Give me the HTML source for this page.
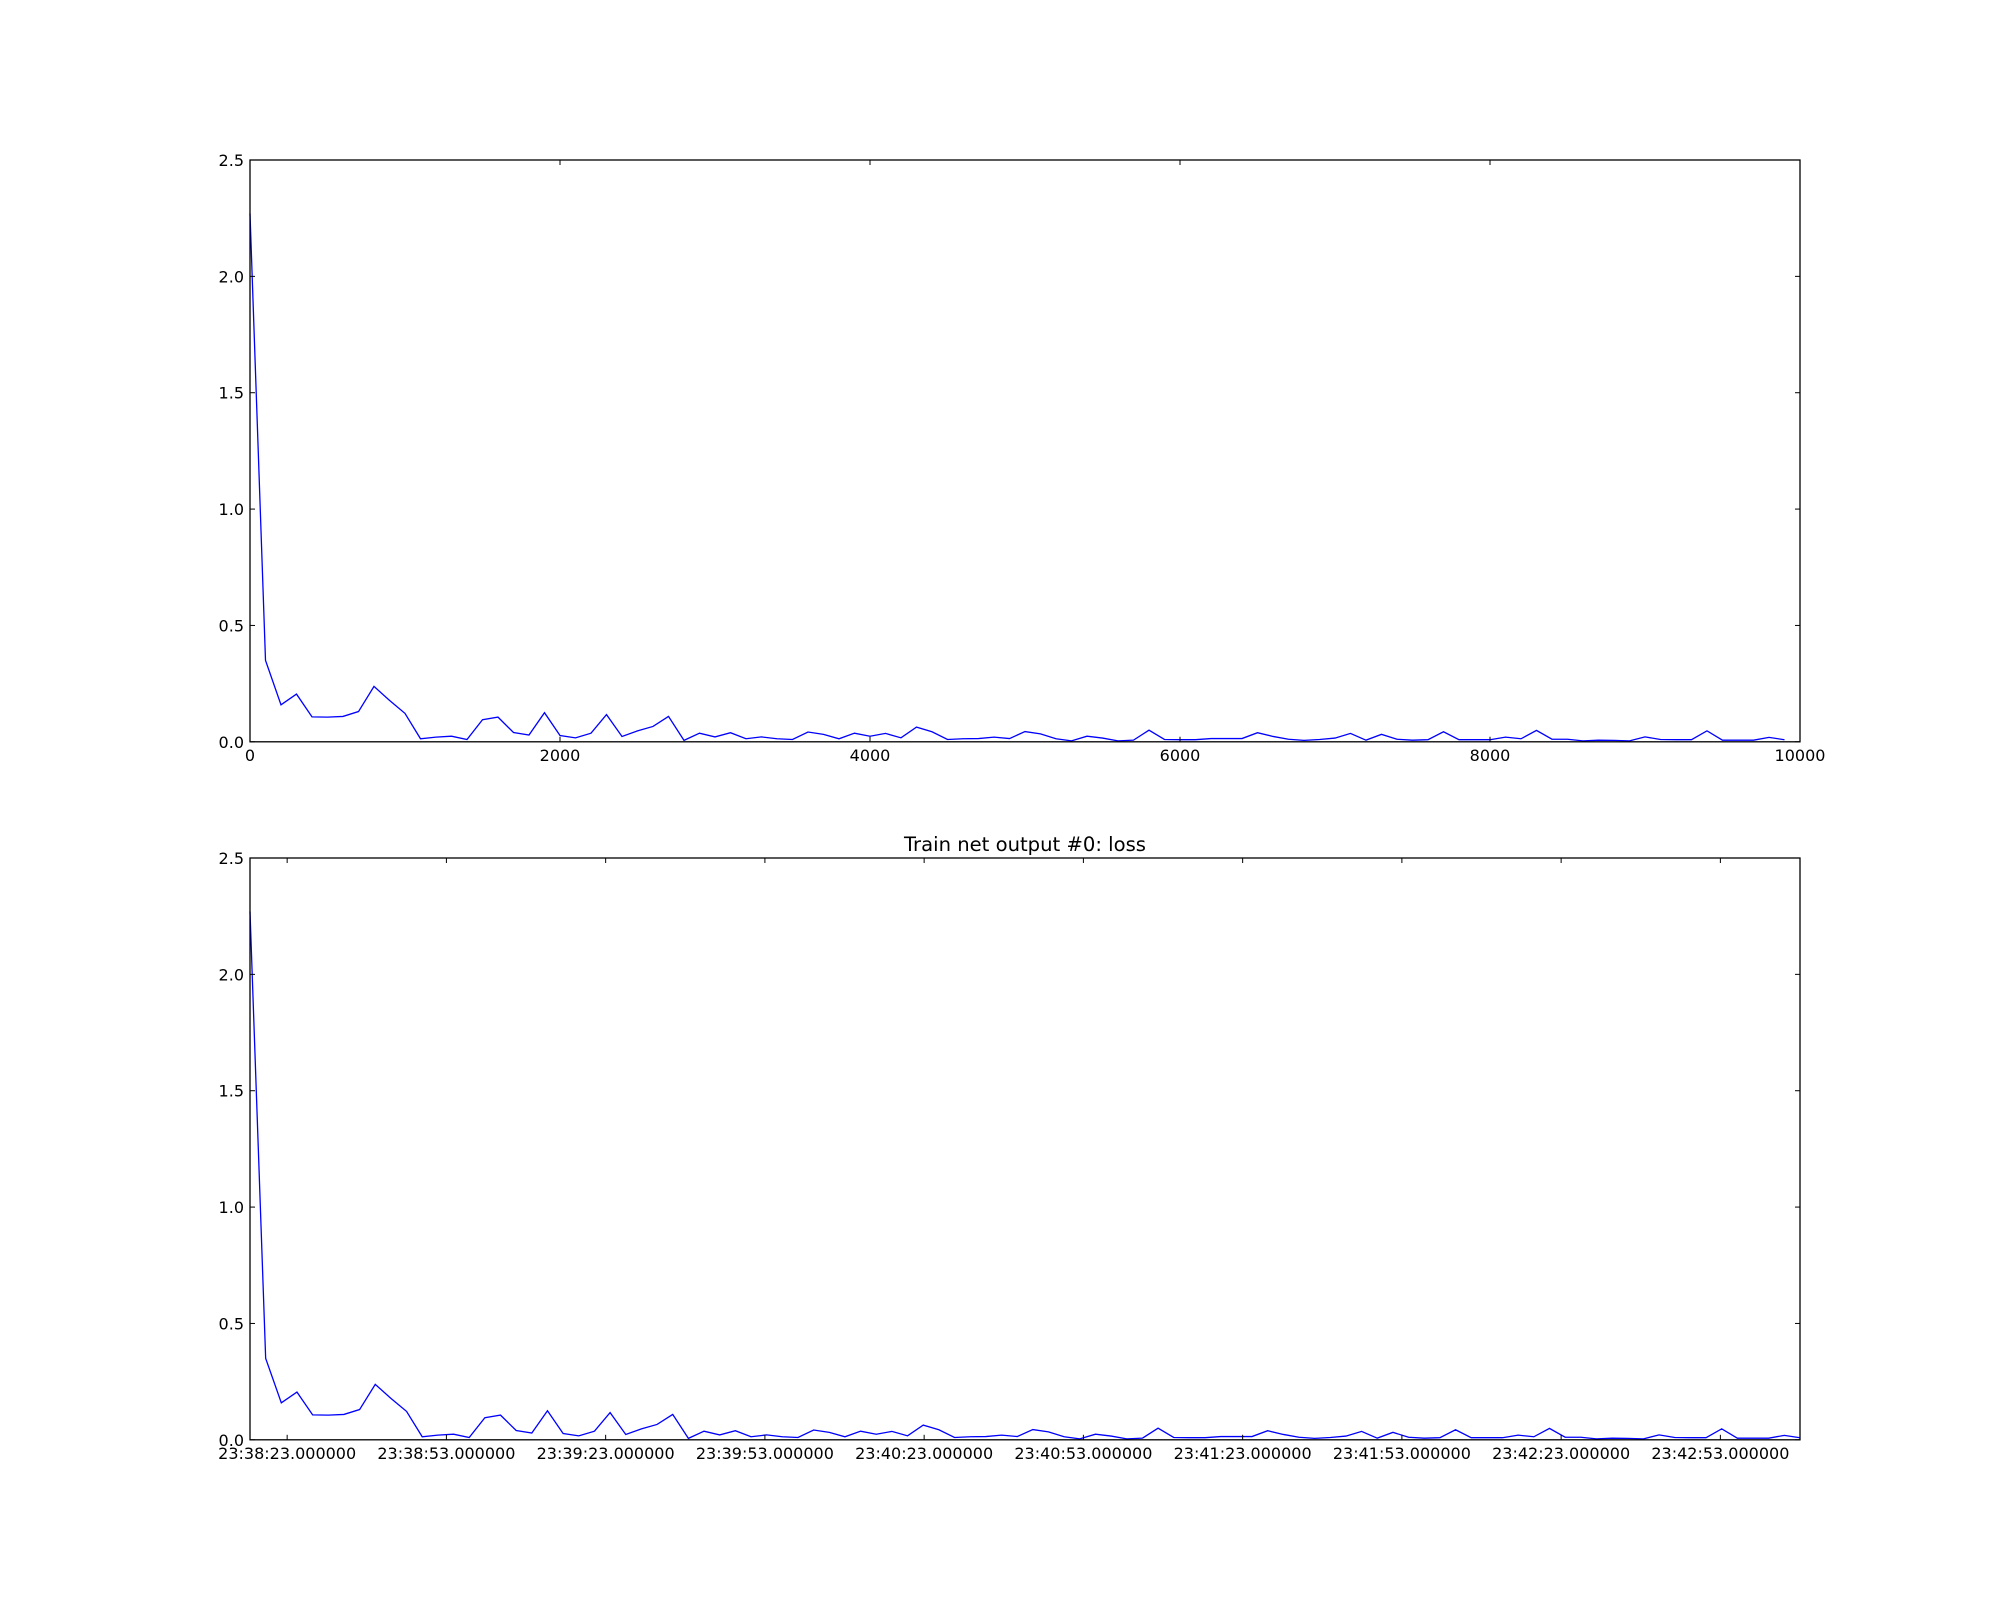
<!DOCTYPE html>
<html><head><meta charset="utf-8"><style>
html,body{margin:0;padding:0;background:#fff;}
svg{display:block;}
text{font-family:"DejaVu Sans","Liberation Sans",sans-serif;font-size:16px;fill:#000;}
</style></head><body>
<svg id="fig" width="2000" height="1600" viewBox="0 0 2000 1600" xmlns="http://www.w3.org/2000/svg">
<rect width="2000" height="1600" fill="#fff"/>
<g id="top"></g>
<g id="bot"></g>
</svg>
<script>
const loss = [2.27,0.35,0.159,0.205,0.107,0.106,0.109,0.13,0.238,0.178,
0.122,0.013,0.02,0.024,0.01,0.095,0.106,0.04,0.029,0.125,
0.027,0.017,0.037,0.117,0.023,0.047,0.066,0.109,0.006,0.037,
0.021,0.039,0.013,0.021,0.013,0.01,0.042,0.032,0.013,0.037,
0.024,0.036,0.017,0.063,0.043,0.01,0.013,0.014,0.02,0.014,
0.044,0.034,0.013,0.004,0.024,0.016,0.004,0.007,0.05,0.01,
0.009,0.009,0.014,0.014,0.014,0.039,0.023,0.011,0.006,0.01,
0.016,0.036,0.007,0.032,0.011,0.007,0.009,0.043,0.009,0.009,
0.009,0.02,0.013,0.049,0.011,0.011,0.004,0.007,0.006,0.004,
0.021,0.01,0.009,0.009,0.047,0.007,0.007,0.007,0.019,0.009];
const iterStep = 100;
const yTicks = [0.0,0.5,1.0,1.5,2.0,2.5];
const yTickLabels = ["0.0","0.5","1.0","1.5","2.0","2.5"];
const xTicksTop = [0,2000,4000,6000,8000,10000];
const xTickLabelsTop = ["0","2000","4000","6000","8000","10000"];
const timeStartSec = 23*3600+38*60+16.0;
const timeEndSec = 23*3600+43*60+8.0;
const timeTickSec = [0,30,60,90,120,150,180,210,240,270].map(d=>23*3600+38*60+23+d);
const timeTickLabels = ["23:38:23.000000","23:38:53.000000","23:39:23.000000","23:39:53.000000","23:40:23.000000","23:40:53.000000","23:41:23.000000","23:41:53.000000","23:42:23.000000","23:42:53.000000"];

const NS="http://www.w3.org/2000/svg";
function mk(tag,attrs,parent){const e=document.createElementNS(NS,tag);for(const k in attrs)e.setAttribute(k,attrs[k]);parent.appendChild(e);return e;}
const L=250,R=1800,H=581.8;
function drawAxes(g,top,xs,xTickVals,xTickLbls,isTime){
  const bottom=top+H;
  const ys=v=>bottom-v/2.5*H;
  const pts=loss.map((v,i)=>xs(i).toFixed(2)+","+ys(v).toFixed(2)).join(" ");
  const pl=mk("polyline",{points:pts,fill:"none",stroke:"#0000ff","stroke-width":"1.3","stroke-linejoin":"miter"},g);
  
  
  const fr=mk("rect",{x:L,y:top,width:R-L,height:H,fill:"none",stroke:"#000","stroke-width":"1.3"},g);
  
  
  yTicks.forEach((v,i)=>{
    const y=ys(v);
    mk("line",{x1:L,y1:y,x2:L+5,y2:y,stroke:"#000","stroke-width":"1"},g);
    mk("line",{x1:R,y1:y,x2:R-5,y2:y,stroke:"#000","stroke-width":"1"},g);
    const t=mk("text",{x:L-6,y:y+6,"text-anchor":"end"},g);
    t.textContent=yTickLabels[i];
    
    
  });
  xTickVals.forEach((v,i)=>{
    const x=isTime?xt(v):xi(v);
    mk("line",{x1:x,y1:bottom,x2:x,y2:bottom-5,stroke:"#000","stroke-width":"1"},g);
    mk("line",{x1:x,y1:top,x2:x,y2:top+5,stroke:"#000","stroke-width":"1"},g);
    const t=mk("text",{x:x,y:bottom+19,"text-anchor":"middle"},g);
    t.textContent=xTickLbls[i];
    
    
  });
}
const xi=it=>L+(it/10000)*(R-L);
const xt=s=>L+(s-timeStartSec)/(timeEndSec-timeStartSec)*(R-L);
const secPerIter=(timeEndSec-timeStartSec)/((loss.length-1)*iterStep);
drawAxes(document.getElementById("top"),160,i=>xi(i*iterStep),xTicksTop,xTickLabelsTop,false);
const gb=document.getElementById("bot");
drawAxes(gb,858,i=>xt(timeStartSec+i*iterStep*secPerIter),timeTickSec,timeTickLabels,true);
const title=mk("text",{x:1025,y:851,"text-anchor":"middle","style":"font-size:19.6px"},gb);
title.textContent="Train net output #0: loss";


</script>
</body></html>
